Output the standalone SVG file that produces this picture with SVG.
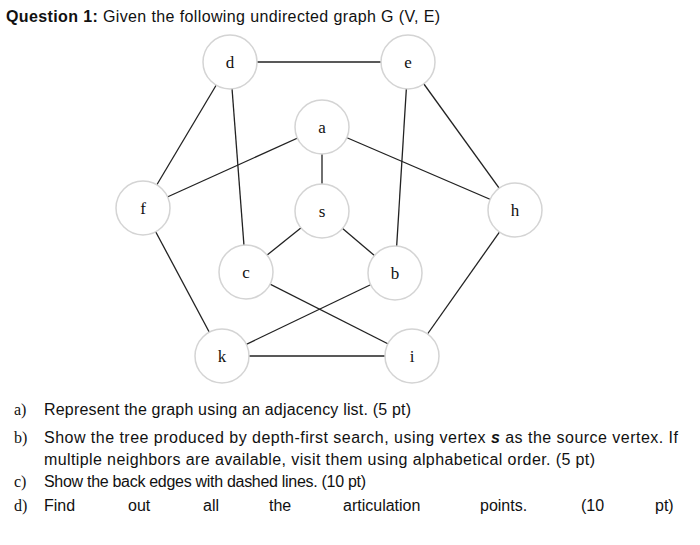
<svg xmlns="http://www.w3.org/2000/svg" width="700" height="545" viewBox="0 0 700 545">
<style>
.n circle{fill:#fff;stroke:#d4d4d4;stroke-width:1.5}
.n text{font-family:"Liberation Serif",serif;font-size:17px;text-anchor:middle;fill:#111}
.e line{stroke:#222;stroke-width:1.3}
.t{font-family:"Liberation Sans",sans-serif;font-size:16px;fill:#111}
.l{font-family:"Liberation Serif",serif;font-size:16px;fill:#111}
</style>
<rect width="700" height="545" fill="#fff"/>
<text x="6" y="22" class="t" textLength="434"><tspan font-weight="bold">Question 1:</tspan> Given the following undirected graph G (V, E)</text>
<g class="e">
<line x1="230" y1="62" x2="408" y2="62"/>
<line x1="230" y1="62" x2="143" y2="208"/>
<line x1="230" y1="62" x2="246" y2="272"/>
<line x1="408" y1="62" x2="395" y2="273"/>
<line x1="408" y1="62" x2="515" y2="210"/>
<line x1="322" y1="127" x2="322" y2="211"/>
<line x1="322" y1="127" x2="143" y2="208"/>
<line x1="322" y1="127" x2="515" y2="210"/>
<line x1="322" y1="211" x2="246" y2="272"/>
<line x1="322" y1="211" x2="395" y2="273"/>
<line x1="143" y1="208" x2="222" y2="356"/>
<line x1="515" y1="210" x2="412" y2="356"/>
<line x1="246" y1="272" x2="412" y2="356"/>
<line x1="395" y1="273" x2="222" y2="356"/>
<line x1="222" y1="356" x2="412" y2="356"/>
</g>
<g id="d" class="n"><circle cx="230" cy="62" r="27"/><text x="230" y="68">d</text></g>
<g id="e" class="n"><circle cx="408" cy="62" r="27"/><text x="408" y="68">e</text></g>
<g id="a" class="n"><circle cx="322" cy="127" r="27"/><text x="322" y="133">a</text></g>
<g id="f" class="n"><circle cx="143" cy="208" r="27"/><text x="143" y="214">f</text></g>
<g id="h" class="n"><circle cx="515" cy="210" r="27"/><text x="515" y="216">h</text></g>
<g id="s" class="n"><circle cx="322" cy="211" r="27"/><text x="322" y="217">s</text></g>
<g id="c" class="n"><circle cx="246" cy="272" r="27"/><text x="246" y="278">c</text></g>
<g id="b" class="n"><circle cx="395" cy="273" r="27"/><text x="395" y="279">b</text></g>
<g id="k" class="n"><circle cx="222" cy="356" r="27"/><text x="222" y="362">k</text></g>
<g id="i" class="n"><circle cx="412" cy="356" r="27"/><text x="412" y="362">i</text></g>
<text x="14" y="415" class="l">a)</text><text x="44" y="415" class="t" textLength="367">Represent the graph using an adjacency list. (5 pt)</text>
<text x="14" y="443" class="l">b)</text><text x="44" y="443" class="t" textLength="634">Show the tree produced by depth-first search, using vertex <tspan font-weight="bold" font-style="italic">s</tspan> as the source vertex. If</text>
<text x="44" y="465" class="t" textLength="551">multiple neighbors are available, visit them using alphabetical order. (5 pt)</text>
<text x="14" y="487" class="l">c)</text><text x="44" y="487" class="t" textLength="322">Show the back edges with dashed lines. (10 pt)</text>
<text x="14" y="511" class="l">d)</text>
<g class="t"><text x="44" y="511">Find</text><text x="128" y="511">out</text><text x="203" y="511">all</text><text x="269" y="511">the</text><text x="343" y="511">articulation</text><text x="480" y="511">points.</text><text x="581" y="511">(10</text><text x="655" y="511">pt)</text></g>
</svg>
